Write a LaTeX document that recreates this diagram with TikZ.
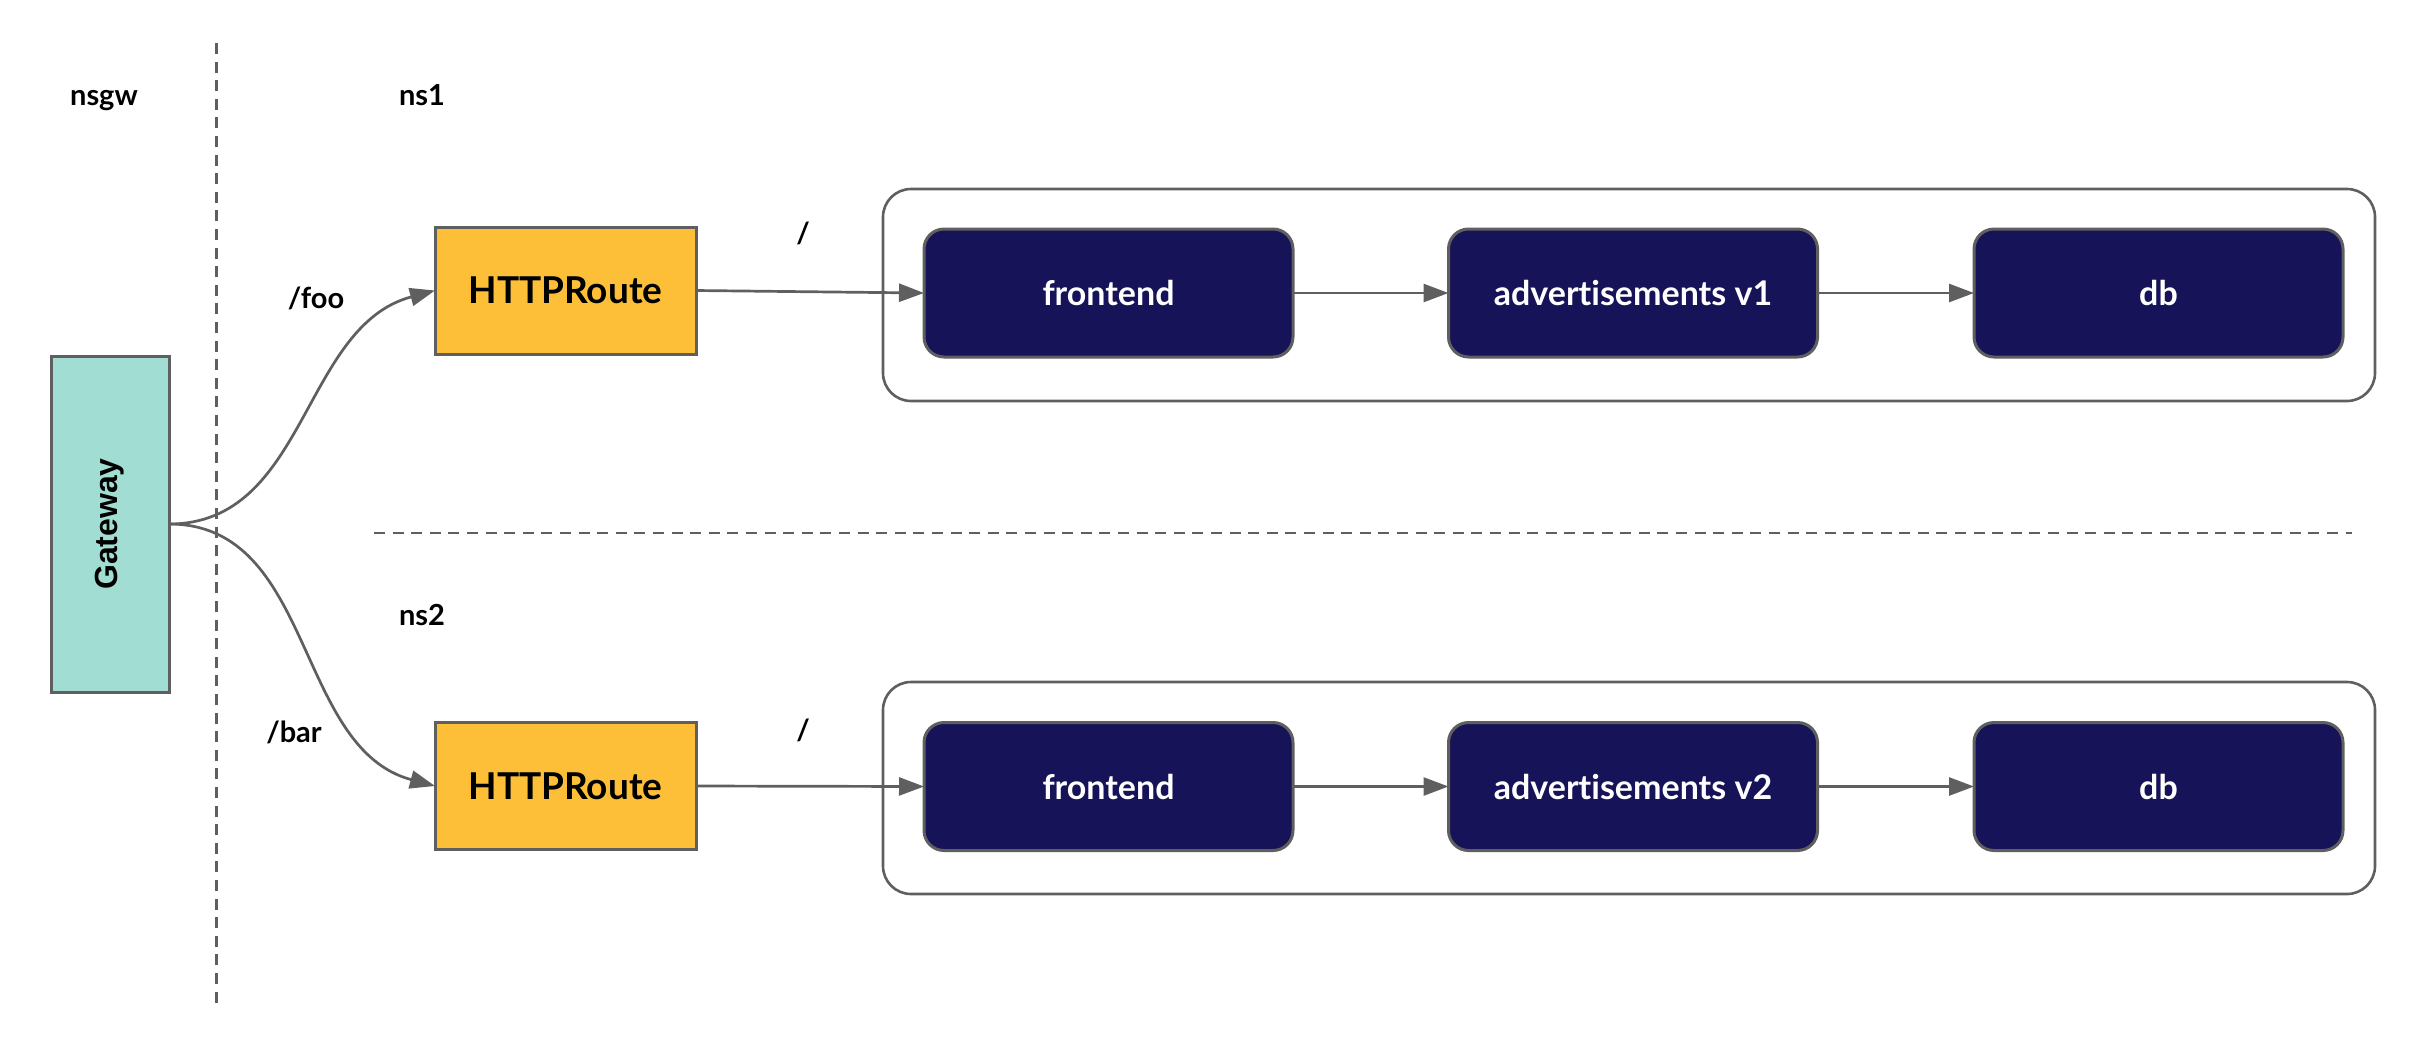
\documentclass[tikz,border=0pt]{standalone}
\usepackage{fontspec}
\setmainfont{Lato}[Ligatures={NoCommon,NoRare}]
\newfontfamily\gwfont{Liberation Sans}
\usetikzlibrary{arrows.meta}
\definecolor{navy}{HTML}{161358}
\definecolor{routeyellow}{HTML}{FDBF38}
\definecolor{gwteal}{HTML}{A2DDD3}
\definecolor{linegray}{HTML}{5F5F5F}
\tikzset{
  conn/.style={draw=linegray, line width=1.35pt, -{Triangle[length=12.5pt,width=9pt]}},
  sep/.style={draw=linegray, line width=1.4pt, dash pattern=on 5.5pt off 3.8pt},
  nslabel/.style={anchor=base, inner sep=0pt, font=\fontsize{14.5}{17}\selectfont\bfseries},
  gwbox/.style={draw=linegray, line width=1.5pt, fill=gwteal, minimum width=59pt, minimum height=168pt, inner sep=0pt, outer sep=0pt},
  routebox/.style={draw=linegray, line width=1.5pt, fill=routeyellow, minimum width=130.5pt, minimum height=63.5pt, inner sep=0pt, outer sep=0pt, font=\fontsize{18.5}{21}\selectfont\bfseries},
  svcbox/.style={draw=linegray, line width=1.5pt, fill=navy, rounded corners=10pt, minimum width=184.5pt, minimum height=64pt, inner sep=0pt, outer sep=0pt, text=white, font=\fontsize{17}{19}\selectfont\bfseries},
  container/.style={draw=linegray, line width=1.3pt, rounded corners=14pt, minimum width=746pt, minimum height=106pt, inner sep=0pt, outer sep=0pt}
}
\begin{document}
\begin{tikzpicture}[x=0.5pt,y=-0.5pt]
\useasboundingbox (0,0) rectangle (2426,1040);
% separators
\draw[sep] (216.5,43) -- (216.5,1009);
\draw[sep] (374,533) -- (2352,533);
% namespace labels
\node[nslabel] (lnsgw) at (104,105) {nsgw};
\node[nslabel] (lns1) at (422,105) {ns1};
\node[nslabel] (lns2) at (422,625) {ns2};
% containers
\node[container] (c1) at (1629,295) {};
\node[container] (c2) at (1629,788) {};
% gateway
\node[gwbox] (gw) at (110,524) {\rotatebox{90}{\gwfont\fontsize{16}{19}\selectfont\bfseries Gateway}};
% routes
\node[routebox] (r1) at (565.5,290.5) {HTTPRoute};
\node[routebox] (r2) at (565.5,786) {HTTPRoute};
% services
\node[svcbox] (f1) at (1108.5,293) {frontend};
\node[svcbox] (a1) at (1633,293) {advertisements v1};
\node[svcbox] (d1) at (2158.5,293) {db};
\node[svcbox] (f2) at (1108.5,786.5) {frontend};
\node[svcbox] (a2) at (1633,786.5) {advertisements v2};
\node[svcbox] (d2) at (2158.5,786.5) {db};
% path labels
\node[nslabel] (lfoo) at (316,308) {/foo};
\node[nslabel] (lbar) at (294,742) {/bar};
\node[nslabel] (lslash1) at (803,243) {/};
\node[nslabel] (lslash2) at (803,740) {/};
% connectors
\draw[conn] (gw.east) to[out=0,in=195] (r1.west);
\draw[conn] (gw.east) to[out=0,in=165] (r2.west);
\draw[conn] (r1.east) -- (f1.west);
\draw[conn] (r2.east) -- (f2.west);
\draw[conn] (f1.east) -- (a1.west);
\draw[conn] (a1.east) -- (d1.west);
\draw[conn] (f2.east) -- (a2.west);
\draw[conn] (a2.east) -- (d2.west);
\end{tikzpicture}
\end{document}
